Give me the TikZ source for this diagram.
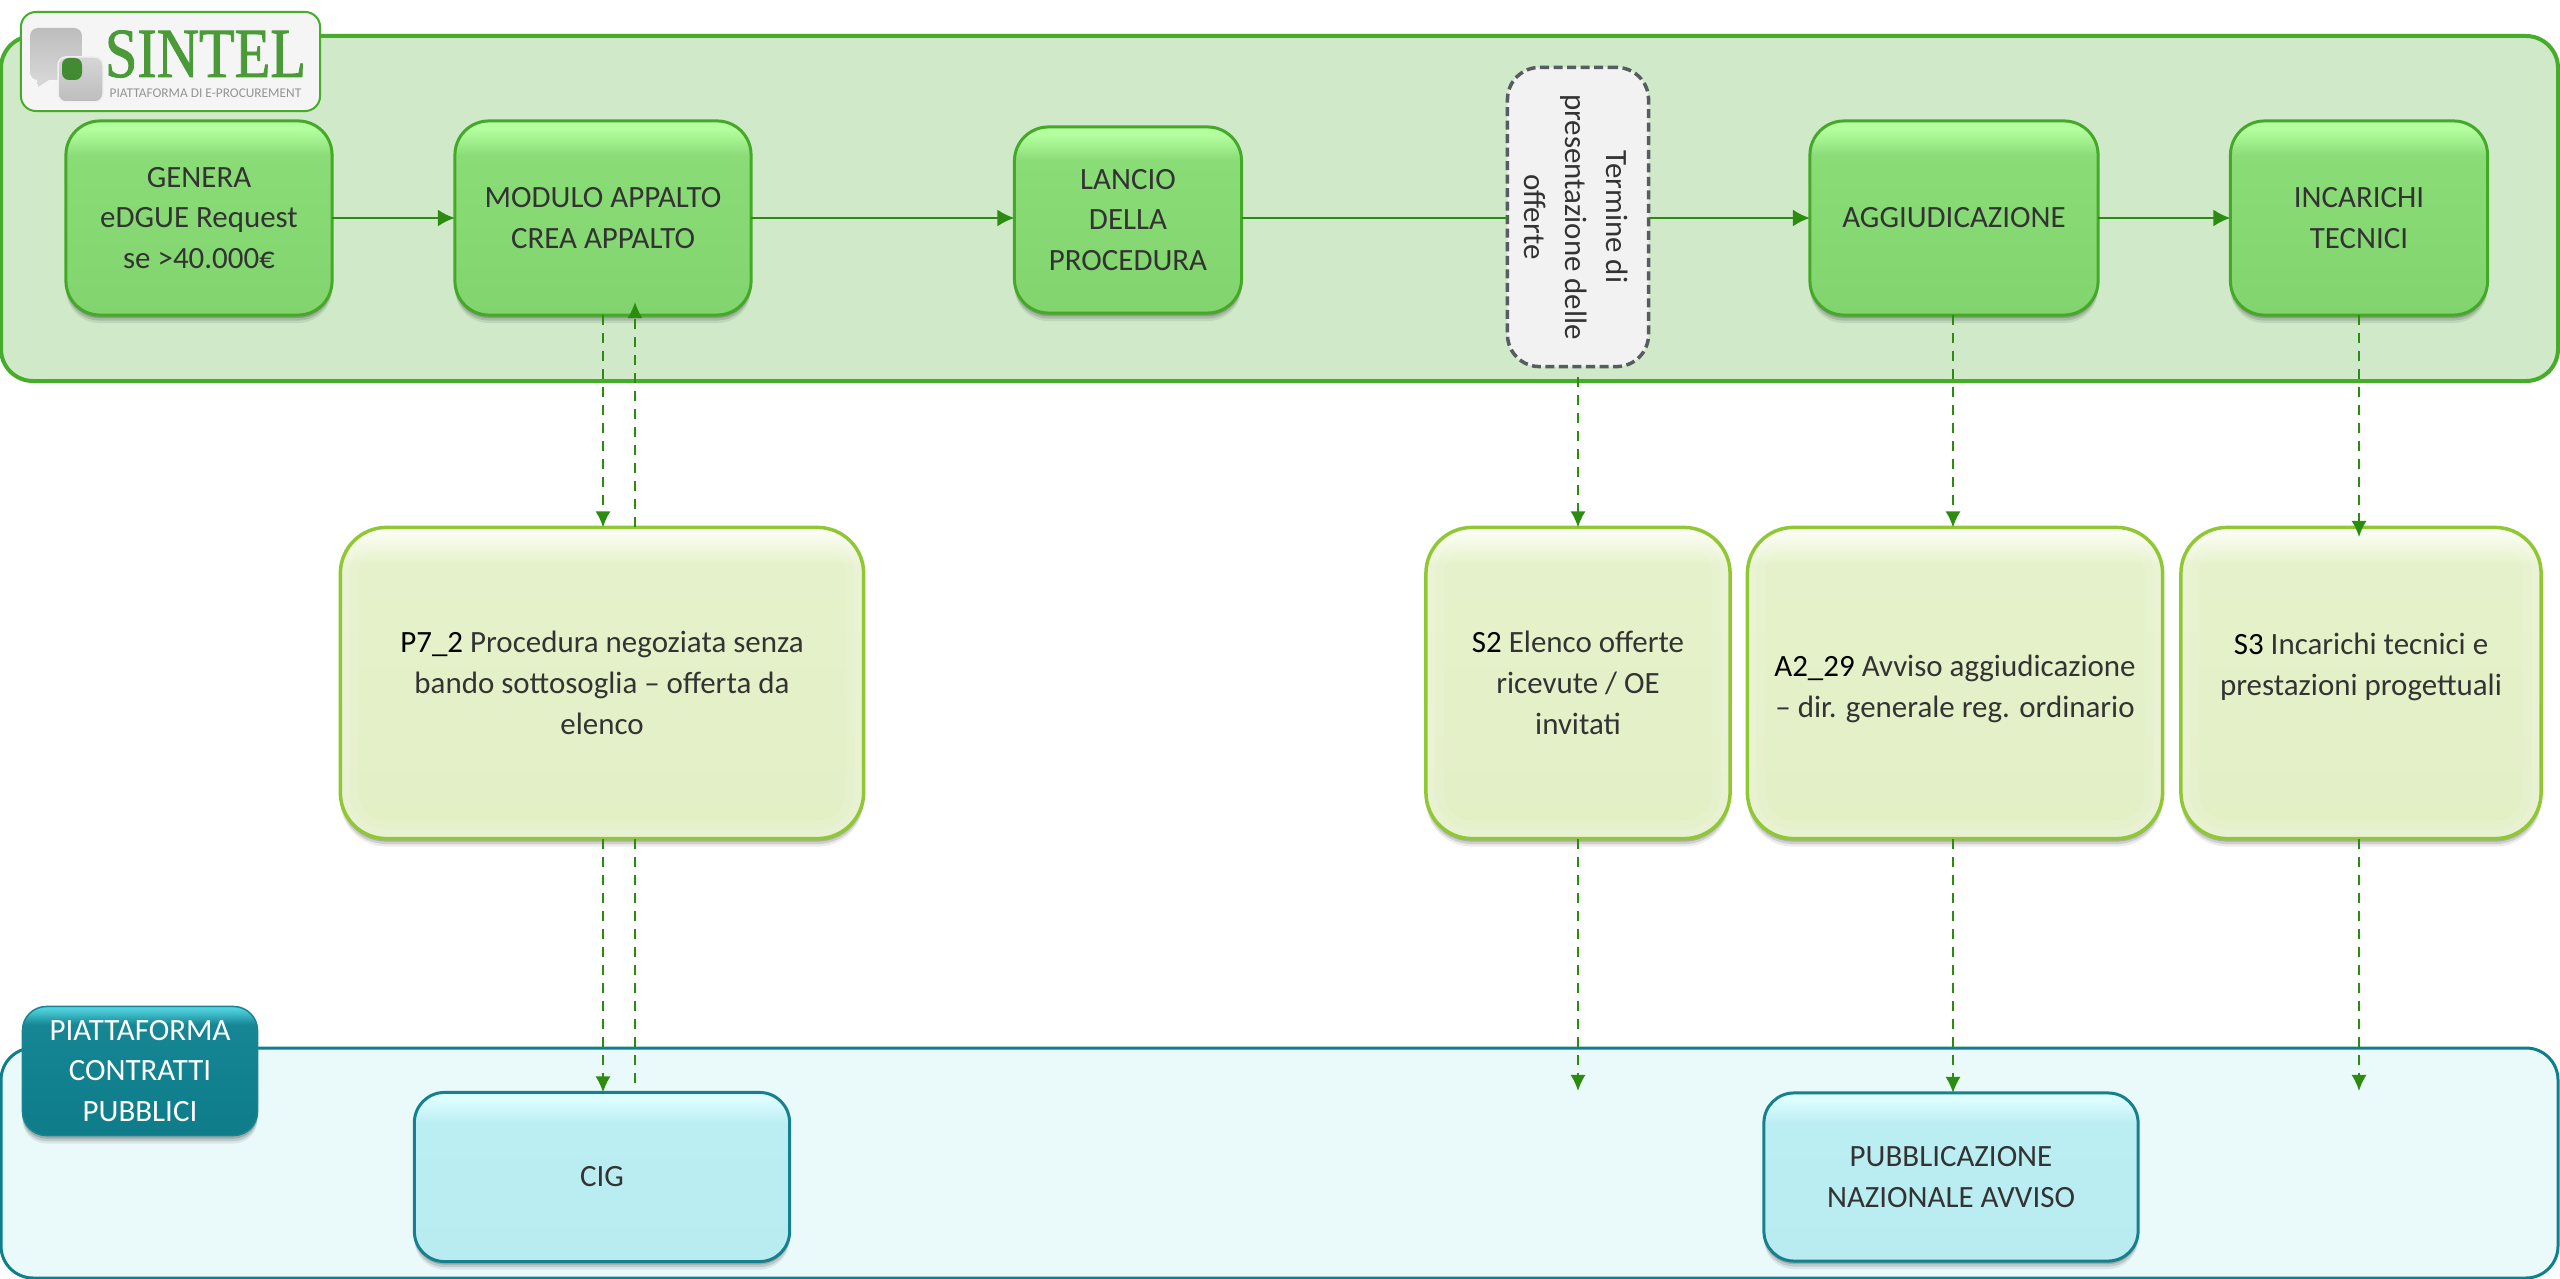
\documentclass[tikz,border=0pt]{standalone}
\usepackage{fontspec}
\setmainfont{Carlito}
\newfontfamily\logofont[FakeStretch=0.83,FakeBold=1.2]{Liberation Serif}
\usetikzlibrary{arrows.meta,shadows,calc}
\definecolor{panelG}{HTML}{CFE9C9}
\definecolor{panelGl}{HTML}{46AD2A}
\definecolor{panelT}{HTML}{EAFAFB}
\definecolor{panelTl}{HTML}{0E7F8C}
\definecolor{gA}{HTML}{82D46E}
\definecolor{gB}{HTML}{8ADC77}
\definecolor{gC}{HTML}{B4FFA0}
\definecolor{gL}{HTML}{45A928}
\definecolor{yA}{HTML}{E3F0C6}
\definecolor{yB}{HTML}{E5F1CA}
\definecolor{yC}{HTML}{FDFFF5}
\definecolor{yL}{HTML}{90C833}
\definecolor{cA}{HTML}{B8ECF1}
\definecolor{cB}{HTML}{BBEEF3}
\definecolor{cC}{HTML}{DDFDFF}
\definecolor{cL}{HTML}{17808F}
\definecolor{tA}{HTML}{0E7C89}
\definecolor{tB}{HTML}{168695}
\definecolor{tC}{HTML}{4FD0DC}
\definecolor{arr}{HTML}{2C8C10}
\definecolor{txt}{HTML}{333333}
\definecolor{termL}{HTML}{575C61}
\definecolor{logoG}{HTML}{4A9A38}
\definecolor{bubA}{HTML}{BDBDBD}
\definecolor{bubB}{HTML}{D6D6D6}
\newcommand{\pfx}[1]{\textcolor{black}{#1}}
\pgfdeclareverticalshading{greenbox}{100bp}{color(0bp)=(gA); color(25bp)=(gA); color(66bp)=(gB); color(73bp)=(gC); color(100bp)=(gC)}
\pgfdeclareverticalshading{yellowbox}{100bp}{color(0bp)=(yA); color(25bp)=(yA); color(69bp)=(yB); color(75bp)=(yC); color(100bp)=(yC)}
\pgfdeclareverticalshading{cyanbox}{100bp}{color(0bp)=(cA); color(25bp)=(cA); color(66bp)=(cB); color(73bp)=(cC); color(100bp)=(cC)}
\pgfdeclareverticalshading{tealbox}{100bp}{color(0bp)=(tA); color(25bp)=(tA); color(68bp)=(tB); color(74bp)=(tC); color(100bp)=(tC)}
\tikzset{
  softshadow/.style={
    drop shadow={shadow xshift=0cm,shadow yshift=-.08cm,opacity=.08,fill=black},
    drop shadow={shadow xshift=0cm,shadow yshift=-.055cm,opacity=.12,fill=black},
    drop shadow={shadow xshift=0cm,shadow yshift=-.03cm,opacity=.16,fill=black}},
  basebox/.style={softshadow,shade,inner sep=0pt,outer sep=0pt,align=center,text=txt,
    font=\fontsize{8.8}{11.6}\selectfont,rounded corners=.34cm},
  greenbox/.style={basebox,shading=greenbox,draw=gL,line width=.03cm},
  yellowbox/.style={basebox,shading=yellowbox,draw=yL,line width=.035cm,rounded corners=.46cm,
    path picture={
      \draw[white,opacity=.10,line width=.36cm,rounded corners=.46cm]
        (path picture bounding box.south west) rectangle (path picture bounding box.north east);
      \draw[white,opacity=.14,line width=.18cm,rounded corners=.46cm]
        (path picture bounding box.south west) rectangle (path picture bounding box.north east);}},
  cyanbox/.style={basebox,shading=cyanbox,draw=cL,line width=.03cm,rounded corners=.3cm},
  tealbox/.style={basebox,shading=tealbox,draw=tB,line width=.015cm,text=white,rounded corners=.24cm},
  boxtext/.style={align=center,text=txt,inner sep=0pt,font=\fontsize{8.8}{11.6}\selectfont},
  termbox/.style={fill=black!5,draw=termL,line width=.035cm,dash pattern=on .09cm off .045cm,
    inner sep=0pt,outer sep=0pt,rounded corners=.32cm},
  termtext/.style={boxtext,rotate=-90},
  flow/.style={draw=arr,line width=.025cm,-{Latex[length=.17cm,width=.17cm]}},
  plainflow/.style={draw=arr,line width=.025cm},
  dashflow/.style={draw=arr,line width=.02cm,dash pattern=on .1cm off .08cm,-{Latex[length=.16cm,width=.15cm]}},
  dashplain/.style={draw=arr,line width=.02cm,dash pattern=on .1cm off .08cm}
}
\begin{document}
\begin{tikzpicture}[x=.01cm,y=-.01cm]
\useasboundingbox (0,0) rectangle (2560,1279);
% panels
\draw[fill=panelG,draw=panelGl,line width=.04cm,rounded corners=.32cm] (1,36) rectangle (2558,381);
\draw[fill=panelT,draw=panelTl,line width=.03cm,rounded corners=.32cm] (1,1048) rectangle (2558,1278);

% flow row
\node[greenbox,minimum width=2.66cm,minimum height=1.94cm] (genera) at (199,218) {GENERA\\eDGUE Request\\se >40.000€};
\node[greenbox,minimum width=2.96cm,minimum height=1.94cm] (modulo) at (603,218) {MODULO APPALTO\\CREA APPALTO};
\node[greenbox,minimum width=2.27cm,minimum height=1.86cm] (lancio) at (1128,220) {LANCIO\\DELLA\\PROCEDURA};
\node[termbox,minimum width=1.41cm,minimum height=2.99cm] (termine) at (1578,217) {};
\node[termtext] (termlabel) at (1576,217) {Termine di\\presentazione delle\\offerte};
\node[greenbox,minimum width=2.88cm,minimum height=1.94cm] (aggiud) at (1954,218) {AGGIUDICAZIONE};
\node[greenbox,minimum width=2.57cm,minimum height=1.94cm] (incar) at (2359,218) {INCARICHI\\TECNICI};

% forms
\node[yellowbox,minimum width=5.23cm,minimum height=3.11cm] (pseven) at (602,683) {\pfx{P7\_2} Procedura negoziata senza\\bando sottosoglia – offerta da\\elenco};
\node[yellowbox,minimum width=3.04cm,minimum height=3.11cm] (stwo) at (1578,683) {\pfx{S2} Elenco offerte\\ricevute / OE\\invitati};
\node[yellowbox,minimum width=4.15cm,minimum height=3.11cm] (atwo) at (1955,683) {};
\node[boxtext] (atwotext) at (1955,689) {\pfx{A2\_29} Avviso aggiudicazione\\– dir. generale reg. ordinario};
\node[yellowbox,minimum width=3.60cm,minimum height=3.11cm] (sthree) at (2361,683) {};
\node[boxtext] (sthreetext) at (2361,667) {\pfx{S3} Incarichi tecnici e\\prestazioni progettuali};

% lower
\node[cyanbox,minimum width=3.75cm,minimum height=1.69cm] (cig) at (602,1177) {CIG};
\node[cyanbox,minimum width=3.74cm,minimum height=1.68cm] (pubb) at (1951,1177) {PUBBLICAZIONE\\NAZIONALE AVVISO};
\node[tealbox,minimum width=2.35cm,minimum height=1.29cm] (pcp) at (140,1071) {PIATTAFORMA\\CONTRATTI\\PUBBLICI};

% logo
\node[fill=black!4,draw=panelGl,line width=.02cm,rounded corners=.15cm,minimum width=2.99cm,minimum height=.99cm,inner sep=0pt] (logo) at (170.5,61.5) {};
\shade[top color=bubA,bottom color=bubB,rounded corners=.08cm] (30,28) rectangle (82,80);
\shade[top color=bubB,bottom color=bubB] (37,76) -- (38,87) -- (52,78) -- cycle;
\shade[top color=bubB,bottom color=bubA,draw=black!6,line width=.015cm,rounded corners=.08cm] (58,57) rectangle (103,102);
\fill[logoG!90!black,rounded corners=.07cm] (62,58) rectangle (82,80);
\node[text=logoG,inner sep=0pt,font=\logofont\fontsize{20}{22}\selectfont] (sintel) at (205.5,54) {SINTEL};
\node[text=black!42,inner sep=0pt,font=\fontsize{3.8}{4}\selectfont] (sintelsub) at (205.5,93) {PIATTAFORMA DI E-PROCUREMENT};

% connector guides
\coordinate (xd) at (603,0);
\coordinate (xu) at (635,0);
\coordinate (xs) at (1578,0);
\coordinate (xa) at (1953,0);
\coordinate (xi) at (2359,0);
\coordinate (xtip) at (0,302);
\coordinate (xlow) at (0,1091);
\coordinate (xterm) at (0,377);
\coordinate (xthree) at (0,537);

% solid flow
\draw[flow] (genera.east) -- (modulo.west);
\draw[flow] (modulo.east) -- (lancio.west |- modulo.east);
\draw[plainflow] (lancio.east |- modulo.east) -- (termine.west |- modulo.east);
\draw[flow] (termine.east |- modulo.east) -- (aggiud.west);
\draw[flow] (aggiud.east) -- (incar.west);

% dashed flow
\draw[dashflow] (modulo.south -| xd) -- (pseven.north -| xd);
\draw[dashflow] (pseven.north -| xu) -- (xu |- xtip);
\draw[dashflow] (xs |- xterm) -- (stwo.north -| xs);
\draw[dashflow] (aggiud.south -| xa) -- (atwo.north -| xa);
\draw[dashflow] (incar.south -| xi) -- (xi |- xthree);
\draw[dashflow] (pseven.south -| xd) -- (cig.north -| xd);
\draw[dashplain] (pseven.south -| xu) -- (cig.north -| xu);
\draw[dashflow] (stwo.south -| xs) -- (xs |- xlow);
\draw[dashflow] (atwo.south -| xa) -- (pubb.north -| xa);
\draw[dashflow] (sthree.south -| xi) -- (xi |- xlow);
\end{tikzpicture}
\end{document}
